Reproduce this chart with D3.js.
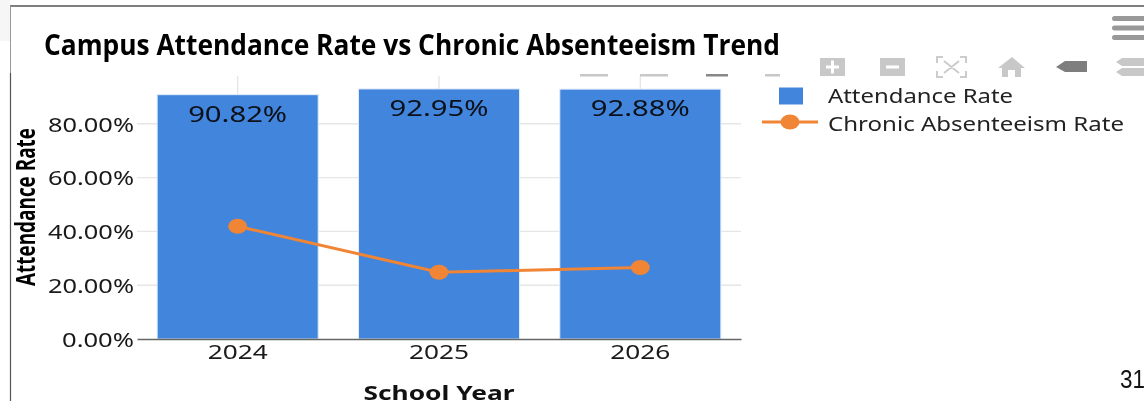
<!DOCTYPE html>
<html>
<head>
<meta charset="utf-8">
<script src="https://cdn.jsdelivr.net/npm/d3@7"></script>
<style>
  html, body { margin: 0; padding: 0; background: #fff; overflow: hidden; }
  svg { display: block; filter: blur(0.35px); }
</style>
</head>
<body>
<div id="holder"></div>
<script>
var years = ["2024", "2025", "2026"];
var attendance = [90.82, 92.95, 92.88];
var chronic = [41.9, 24.8, 26.6];
var yTicks = [0, 20, 40, 60, 80];
var seriesNames = ["Attendance Rate", "Chronic Absenteeism Rate"];

var fullWidth = 1144;
var fullHeight = 401;
var margin = {top: 74, left: 137, right: 403, bottom: 62};
var width = fullWidth - margin.left - margin.right;
var height = fullHeight - margin.top - margin.bottom;

var textFont = "'Noto Sans', sans-serif";
var blue = "#4285dc";
var orange = "#f08536";

var root = d3.select("#holder").append("svg")
  .attr("width", fullWidth)
  .attr("height", fullHeight);

// slide frame behind the chart
root.append("rect").attr("width", 10).attr("height", 41).attr("fill", "#f6f6f6");
root.append("line").attr("x1", 10).attr("x2", fullWidth).attr("y1", 6).attr("y2", 6)
  .attr("stroke", "#555").attr("stroke-width", 1.5);
root.append("line").attr("x1", 10.5).attr("x2", 10.5).attr("y1", 6).attr("y2", 73)
  .attr("stroke", "#999").attr("stroke-width", 1);
root.append("line").attr("x1", 10.5).attr("x2", 10.5).attr("y1", 73).attr("y2", fullHeight)
  .attr("stroke", "#555").attr("stroke-width", 1.2);

var svg = root.append("g")
  .attr("transform", "translate(" + margin.left + "," + margin.top + ")");

var xScale = d3.scaleBand()
  .domain(years)
  .range([0, width])
  .paddingInner(0.2)
  .paddingOuter(0.1);

var yScale = d3.scaleLinear()
  .domain([0, 98.5])
  .range([height, 0]);

function center(d) { return xScale(d) + xScale.bandwidth() / 2; }

// gridlines
svg.append("g").selectAll("line")
  .data(yTicks.slice(1))
  .enter().append("line")
  .attr("x1", 0).attr("x2", width)
  .attr("y1", function(d) { return yScale(d); })
  .attr("y2", function(d) { return yScale(d); })
  .attr("stroke", "#e6e6e6").attr("stroke-width", 1.4);

svg.append("g").selectAll("line")
  .data(years)
  .enter().append("line")
  .attr("x1", center).attr("x2", center)
  .attr("y1", 2).attr("y2", height)
  .attr("stroke", "#e6e6e6").attr("stroke-width", 1.4);

// bars
svg.selectAll(".bar")
  .data(years)
  .enter().append("rect")
  .attr("class", "bar")
  .attr("x", function(d) { return xScale(d); })
  .attr("y", function(d, i) { return yScale(attendance[i]); })
  .attr("width", xScale.bandwidth())
  .attr("height", function(d, i) { return height - yScale(attendance[i]); })
  .attr("fill", blue)
  .attr("stroke", "#e3ecf9").attr("stroke-width", 1);

// value labels inside the bars
svg.selectAll(".bar-label")
  .data(years)
  .enter().append("text")
  .attr("class", "bar-label")
  .attr("x", center)
  .attr("y", function(d, i) { return yScale(attendance[i]) + 27; })
  .attr("text-anchor", "middle")
  .attr("font-family", textFont)
  .attr("font-size", 22)
  .attr("fill", "#0c1018")
  .attr("textLength", 99)
  .attr("lengthAdjust", "spacingAndGlyphs")
  .text(function(d, i) { return attendance[i].toFixed(2) + "%"; });

// line series
var line = d3.line()
  .x(function(d, i) { return center(years[i]); })
  .y(function(d) { return yScale(d); });

svg.append("path")
  .datum(chronic)
  .attr("d", line)
  .attr("fill", "none")
  .attr("stroke", orange)
  .attr("stroke-width", 3);

svg.selectAll(".dot")
  .data(chronic)
  .enter().append("ellipse")
  .attr("class", "dot")
  .attr("cx", function(d, i) { return center(years[i]); })
  .attr("cy", function(d) { return yScale(d); })
  .attr("rx", 9.5).attr("ry", 7.5)
  .attr("fill", orange);

// axes
var yAxis = d3.axisLeft(yScale)
  .tickValues(yTicks)
  .tickSize(0)
  .tickPadding(3)
  .tickFormat(function(d) { return d.toFixed(2) + "%"; });

var yG = svg.append("g").call(yAxis);
yG.select(".domain").remove();
yG.selectAll("text")
  .attr("font-family", textFont)
  .attr("font-size", 20)
  .attr("dy", "0.37em")
  .attr("fill", "#1a1a1a")
  .attr("textLength", function(d) { return d === 0 ? 72 : 86; })
  .attr("lengthAdjust", "spacingAndGlyphs");

var xAxis = d3.axisBottom(xScale).tickSize(0).tickPadding(6);
var xG = svg.append("g")
  .attr("transform", "translate(0," + height + ")")
  .call(xAxis);
xG.select(".domain").attr("stroke", "#666").attr("stroke-width", 1.5);
xG.selectAll("text")
  .attr("font-family", textFont)
  .attr("font-size", 20)
  .attr("fill", "#1a1a1a")
  .attr("textLength", 60)
  .attr("lengthAdjust", "spacingAndGlyphs");

// axis titles
root.append("text")
  .attr("x", 439).attr("y", 400)
  .attr("text-anchor", "middle")
  .attr("font-family", textFont)
  .attr("font-size", 19)
  .attr("font-weight", 700)
  .attr("fill", "#111")
  .attr("textLength", 151)
  .attr("lengthAdjust", "spacingAndGlyphs")
  .text("School Year");

root.append("text")
  .attr("transform", "translate(35,207) rotate(-90)")
  .attr("text-anchor", "middle")
  .attr("font-family", "'Open Sans', sans-serif")
  .attr("font-size", 26)
  .attr("font-weight", 700)
  .attr("fill", "#000")
  .attr("textLength", 158)
  .attr("lengthAdjust", "spacingAndGlyphs")
  .text("Attendance Rate");

root.append("text")
  .attr("x", 44).attr("y", 55)
  .attr("font-family", "'Open Sans', sans-serif")
  .attr("font-size", 28)
  .attr("font-weight", 700)
  .attr("fill", "#000")
  .attr("textLength", 736)
  .attr("lengthAdjust", "spacingAndGlyphs")
  .text("Campus Attendance Rate vs Chronic Absenteeism Trend");

// legend
var legend = root.append("g");
legend.append("rect")
  .attr("x", 779).attr("y", 87.5).attr("width", 24).attr("height", 17).attr("fill", blue);
legend.append("line")
  .attr("x1", 762).attr("x2", 818).attr("y1", 122).attr("y2", 122)
  .attr("stroke", orange).attr("stroke-width", 3);
legend.append("ellipse")
  .attr("cx", 790).attr("cy", 122).attr("rx", 9.5).attr("ry", 7.5).attr("fill", orange);
legend.selectAll("text")
  .data(seriesNames)
  .enter().append("text")
  .attr("x", 828)
  .attr("y", function(d, i) { return i === 0 ? 103 : 130.5; })
  .attr("font-family", textFont)
  .attr("font-size", 20)
  .attr("fill", "#222")
  .attr("textLength", function(d, i) { return i === 0 ? 185 : 296; })
  .attr("lengthAdjust", "spacingAndGlyphs")
  .text(function(d) { return d; });

// toolbar remnants, top right
var tools = root.append("g");
var grey = "#c8c8c8";
[[1112, 16], [1112, 25.5], [1112, 35]].forEach(function(p) {
  tools.append("rect").attr("x", p[0]).attr("y", p[1]).attr("width", 40).attr("height", 5)
    .attr("rx", 2.5).attr("fill", "#999");
});
[[820, "+"], [880, "-"]].forEach(function(p) {
  tools.append("rect").attr("x", p[0]).attr("y", 58).attr("width", 25).attr("height", 18).attr("fill", grey);
  tools.append("rect").attr("x", p[0] + 6).attr("y", 65.5).attr("width", 13).attr("height", 3).attr("fill", "#fff");
  if (p[1] === "+") {
    tools.append("rect").attr("x", p[0] + 11).attr("y", 60.5).attr("width", 3).attr("height", 13).attr("fill", "#fff");
  }
});
tools.append("path")
  .attr("d", "M937 63V57H943M960 57H966V63M966 71V77H960M943 77H937V71M944 61L959 73M959 61L944 73")
  .attr("fill", "none").attr("stroke", "#ccc").attr("stroke-width", 2);
tools.append("path")
  .attr("d", "M998 68L1012 57L1025 68H1021V77H1015V70H1008V77H1002V68Z").attr("fill", grey);
tools.append("path").attr("d", "M1056 67L1065 61H1087V72H1065Z").attr("fill", "#7e7e7e");
tools.append("path").attr("d", "M1116 62L1122 58H1144V66H1122ZM1116 72L1122 68H1144V76H1122Z").attr("fill", grey);
[[580, 28], [640, 28], [706, 22], [765, 15]].forEach(function(p, i) {
  tools.append("rect").attr("x", p[0]).attr("y", 74).attr("width", p[1]).attr("height", 2.5)
    .attr("fill", i === 2 ? "#888" : grey);
});

// page number of the slide
root.append("text")
  .attr("x", 1120).attr("y", 388)
  .attr("font-family", "'Liberation Sans', sans-serif")
  .attr("font-size", 25)
  .attr("fill", "#111")
  .attr("textLength", 25)
  .attr("lengthAdjust", "spacingAndGlyphs")
  .text("31");
</script>
</body>
</html>
